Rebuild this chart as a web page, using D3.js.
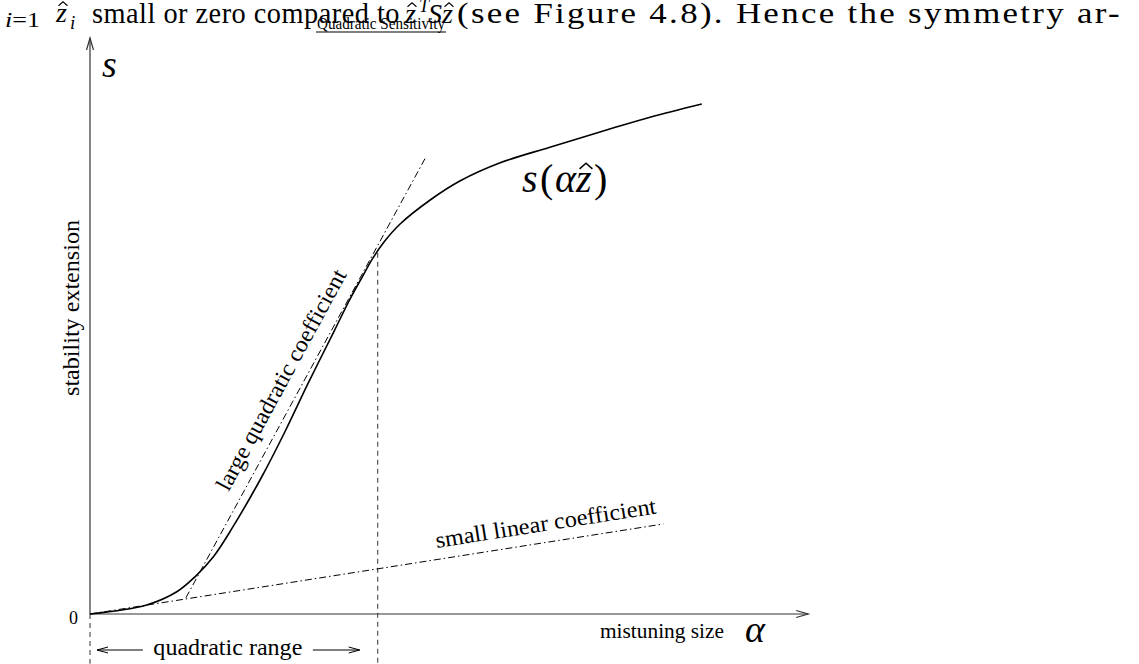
<!DOCTYPE html>
<html>
<head>
<meta charset="utf-8">
<script src="https://cdn.jsdelivr.net/npm/d3@7"></script>
<style>
  body { margin: 0; background: #fff; }
  svg { display: block; }
  text { font-family: "Liberation Serif", "Times New Roman", serif; fill: #000; }
</style>
</head>
<body>
<svg width="1139" height="664"></svg>
<script>
// s(alpha z) curve (alpha and s in arbitrary units 0..100)
const curveAlpha = [0, 8.1, 12.4, 15, 17.6, 20.3, 24.6, 27.9, 31.1, 34.9, 37.1, 38.9, 40.3, 42, 44.3, 48.6, 52.9, 58.6, 65.7, 73.9, 80, 87.4];
const curveS = [0, 1.5, 3.7, 6.2, 9.5, 14.3, 23, 30.5, 38.3, 47.2, 52.4, 56.2, 59.1, 62, 65, 69, 72.2, 75.2, 77.8, 80.7, 82.8, 85];

// tangent with large quadratic coefficient
const tangentAlpha = [13.7, 48];
const tangentS = [2.7, 76.2];

// small linear coefficient line
const linearAlpha = [0, 81.9];
const linearS = [0, 15];

// end of the quadratic range
const rangeEnd = 41.1;
const rangeTop = 60.2;
const rangeBottom = -8.3;

const xMax = 102.6;
const yMax = 96;
const yTicks = [0];

(function () {
  "use strict";
  const svg = d3.select("svg");

  const x = d3.scaleLinear().domain([0, 100]).range([90, 790]);
  const y = d3.scaleLinear().domain([0, 100]).range([614, 14]);

  const italic = (sel) => sel.attr("font-style", "italic");

  // italic z with a hat drawn on top (the precomposed glyph is not in the font)
  const zHat = (g, xPos, base, size) => {
    g.append("text").attr("x", xPos).attr("y", base).attr("font-size", size)
      .call(italic).text("z");
    const cx = xPos + 0.25 * size;
    const hw = 0.16 * size;
    const top = base - 0.72 * size;
    const bot = base - 0.58 * size;
    g.append("path")
      .attr("d", `M${cx - hw},${bot}L${cx},${top}L${cx + hw},${bot}`)
      .attr("fill", "none").attr("stroke", "#000").attr("stroke-width", size / 26);
  };

  // ---- header line of the page (clipped text) ----
  const head = svg.append("g").attr("class", "header");
  head.append("text").attr("x", 5).attr("y", 27).attr("font-size", 21)
    .attr("textLength", 35).attr("lengthAdjust", "spacingAndGlyphs")
    .html('<tspan font-style="italic">i</tspan>=1');
  zHat(head, 56, 22, 28);
  head.append("text").attr("x", 70).attr("y", 29).attr("font-size", 19)
    .call(italic).text("i");
  head.append("text").attr("x", 92).attr("y", 23).attr("font-size", 29)
    .attr("letter-spacing", 0.5)
    .attr("textLength", 308).attr("lengthAdjust", "spacingAndGlyphs")
    .text("small or zero compared to");
  zHat(head, 405, 23, 28);
  head.append("text").attr("x", 419).attr("y", 12).attr("font-size", 18)
    .call(italic).text("T");
  head.append("text").attr("x", 428).attr("y", 23).attr("font-size", 28)
    .call(italic).text("S");
  zHat(head, 442, 23, 28);
  head.append("text").attr("x", 457).attr("y", 23).attr("font-size", 30)
    .attr("letter-spacing", 2)
    .attr("textLength", 665).attr("lengthAdjust", "spacingAndGlyphs")
    .text("(see Figure 4.8). Hence the symmetry ar-");

  // title
  svg.append("text").attr("x", 381).attr("y", 29).attr("font-size", 16)
    .attr("text-anchor", "middle")
    .attr("textLength", 128).attr("lengthAdjust", "spacingAndGlyphs")
    .text("Quadratic Sensitivity");
  svg.append("line").attr("x1", 316).attr("x2", 446).attr("y1", 32).attr("y2", 32)
    .attr("stroke", "#000").attr("stroke-width", 1.1);

  // ---- axes ----
  const axisColor = "#333";
  const arrowHead = (tx, ty, dx, dy, len, half) => {
    const px = -dy, py = dx;
    return `M${tx - dx * len + px * half},${ty - dy * len + py * half}L${tx},${ty}L${tx - dx * len - px * half},${ty - dy * len - py * half}`;
  };

  svg.append("line")
    .attr("x1", x(0)).attr("y1", y(0)).attr("x2", x(xMax)).attr("y2", y(0))
    .attr("stroke", axisColor).attr("stroke-width", 1.2);
  svg.append("path").attr("d", arrowHead(x(xMax), y(0), 1, 0, 12, 3.5))
    .attr("fill", "none").attr("stroke", axisColor).attr("stroke-width", 1.2);

  svg.append("line")
    .attr("x1", x(0)).attr("y1", y(0)).attr("x2", x(0)).attr("y2", y(yMax))
    .attr("stroke", axisColor).attr("stroke-width", 1.2);
  svg.append("path").attr("d", arrowHead(x(0), y(yMax), 0, -1, 12, 3.5))
    .attr("fill", "none").attr("stroke", axisColor).attr("stroke-width", 1.2);

  const yAxisG = svg.append("g")
    .attr("transform", `translate(${x(0)},0)`)
    .call(d3.axisLeft(y).tickValues(yTicks).tickSize(0).tickPadding(12));
  yAxisG.select(".domain").remove();
  yAxisG.selectAll("text")
    .attr("font-family", '"Liberation Serif", serif')
    .attr("font-size", 18).attr("dy", "0.55em").attr("fill", "#000");

  // axis labels
  svg.append("text").attr("x", 102).attr("y", 77).attr("font-size", 38)
    .call(italic).text("s");
  svg.append("text")
    .attr("transform", `translate(79,${308}) rotate(-90)`)
    .attr("text-anchor", "middle").attr("font-size", 23)
    .attr("textLength", 176).attr("lengthAdjust", "spacingAndGlyphs")
    .text("stability extension");
  svg.append("text").attr("x", 600).attr("y", 638).attr("font-size", 21.5)
    .attr("textLength", 124).attr("lengthAdjust", "spacingAndGlyphs")
    .text("mistuning size");
  svg.append("text").attr("x", 745).attr("y", 642).attr("font-size", 38)
    .call(italic).text("α");

  // ---- dashed markers of the quadratic range ----
  const dashed = "5,4";
  svg.append("line")
    .attr("x1", x(rangeEnd)).attr("x2", x(rangeEnd))
    .attr("y1", y(rangeTop)).attr("y2", y(rangeBottom))
    .attr("stroke", "#444").attr("stroke-width", 1.1).attr("stroke-dasharray", dashed);
  svg.append("line")
    .attr("x1", x(0)).attr("x2", x(0))
    .attr("y1", y(0)).attr("y2", y(rangeBottom))
    .attr("stroke", "#444").attr("stroke-width", 1.1).attr("stroke-dasharray", dashed);

  const rangeY = 650;
  const rangeMid = (x(0) + x(rangeEnd)) / 2 - 6;
  svg.append("text").attr("x", rangeMid).attr("y", 655)
    .attr("text-anchor", "middle").attr("font-size", 23)
    .attr("textLength", 149).attr("lengthAdjust", "spacingAndGlyphs")
    .text("quadratic range");
  const arrows = [
    [x(0) + 7, rangeMid - 85, -1],
    [x(rangeEnd) - 18, rangeMid + 85, 1]
  ];
  arrows.forEach(([tip, tail, dir]) => {
    svg.append("line").attr("x1", tail).attr("x2", tip).attr("y1", rangeY).attr("y2", rangeY)
      .attr("stroke", "#000").attr("stroke-width", 1);
    svg.append("path").attr("d", arrowHead(tip, rangeY, dir, 0, 11, 3))
      .attr("fill", "none").attr("stroke", "#000").attr("stroke-width", 1);
  });

  // ---- dash-dot lines ----
  const dashDot = "7,3,1.5,3";
  const lineGen = d3.line().x((d) => x(d[0])).y((d) => y(d[1]));
  const tangentPts = d3.zip(tangentAlpha, tangentS);
  const linearPts = d3.zip(linearAlpha, linearS);

  svg.append("path").attr("d", lineGen(tangentPts))
    .attr("fill", "none").attr("stroke", "#000").attr("stroke-width", 1)
    .attr("stroke-dasharray", dashDot);
  svg.append("path").attr("d", lineGen(linearPts))
    .attr("fill", "none").attr("stroke", "#000").attr("stroke-width", 1)
    .attr("stroke-dasharray", dashDot);

  // ---- the curve ----
  const curveGen = d3.line()
    .x((d) => x(d[0])).y((d) => y(d[1]))
    .curve(d3.curveCatmullRom.alpha(0.5));
  svg.append("path").attr("d", curveGen(d3.zip(curveAlpha, curveS)))
    .attr("fill", "none").attr("stroke", "#000").attr("stroke-width", 1.6);

  // ---- labels placed along lines ----
  const alongLabel = (pts, frac, offset, txt, len) => {
    const a = [x(pts[0][0]), y(pts[0][1])];
    const b = [x(pts[1][0]), y(pts[1][1])];
    const dx = b[0] - a[0], dy = b[1] - a[1];
    const L = Math.hypot(dx, dy);
    const ux = dx / L, uy = dy / L;
    const px = a[0] + dx * frac + uy * offset;
    const py = a[1] + dy * frac - ux * offset;
    const ang = Math.atan2(dy, dx) * 180 / Math.PI;
    svg.append("text")
      .attr("transform", `translate(${px},${py}) rotate(${ang})`)
      .attr("text-anchor", "middle").attr("font-size", 23)
      .attr("textLength", len).attr("lengthAdjust", "spacingAndGlyphs")
      .text(txt);
  };
  alongLabel(tangentPts, 0.472, 13, "large quadratic coefficient", 248);
  alongLabel(linearPts, 0.80, 11.5, "small linear coefficient", 223);

  // curve label s(alpha z-hat), built piece by piece
  const lab = svg.append("g").attr("class", "curve-label");
  const labBase = 192, labSize = 40;
  lab.append("text").attr("x", 522).attr("y", labBase).attr("font-size", labSize)
    .call(italic).text("s");
  lab.append("text").attr("x", 540).attr("y", labBase).attr("font-size", labSize)
    .text("(");
  lab.append("text").attr("x", 555).attr("y", labBase).attr("font-size", labSize)
    .call(italic).text("α");
  zHat(lab, 576, labBase, labSize);
  lab.append("text").attr("x", 594).attr("y", labBase).attr("font-size", labSize)
    .text(")");
})();
</script>
</body>
</html>
